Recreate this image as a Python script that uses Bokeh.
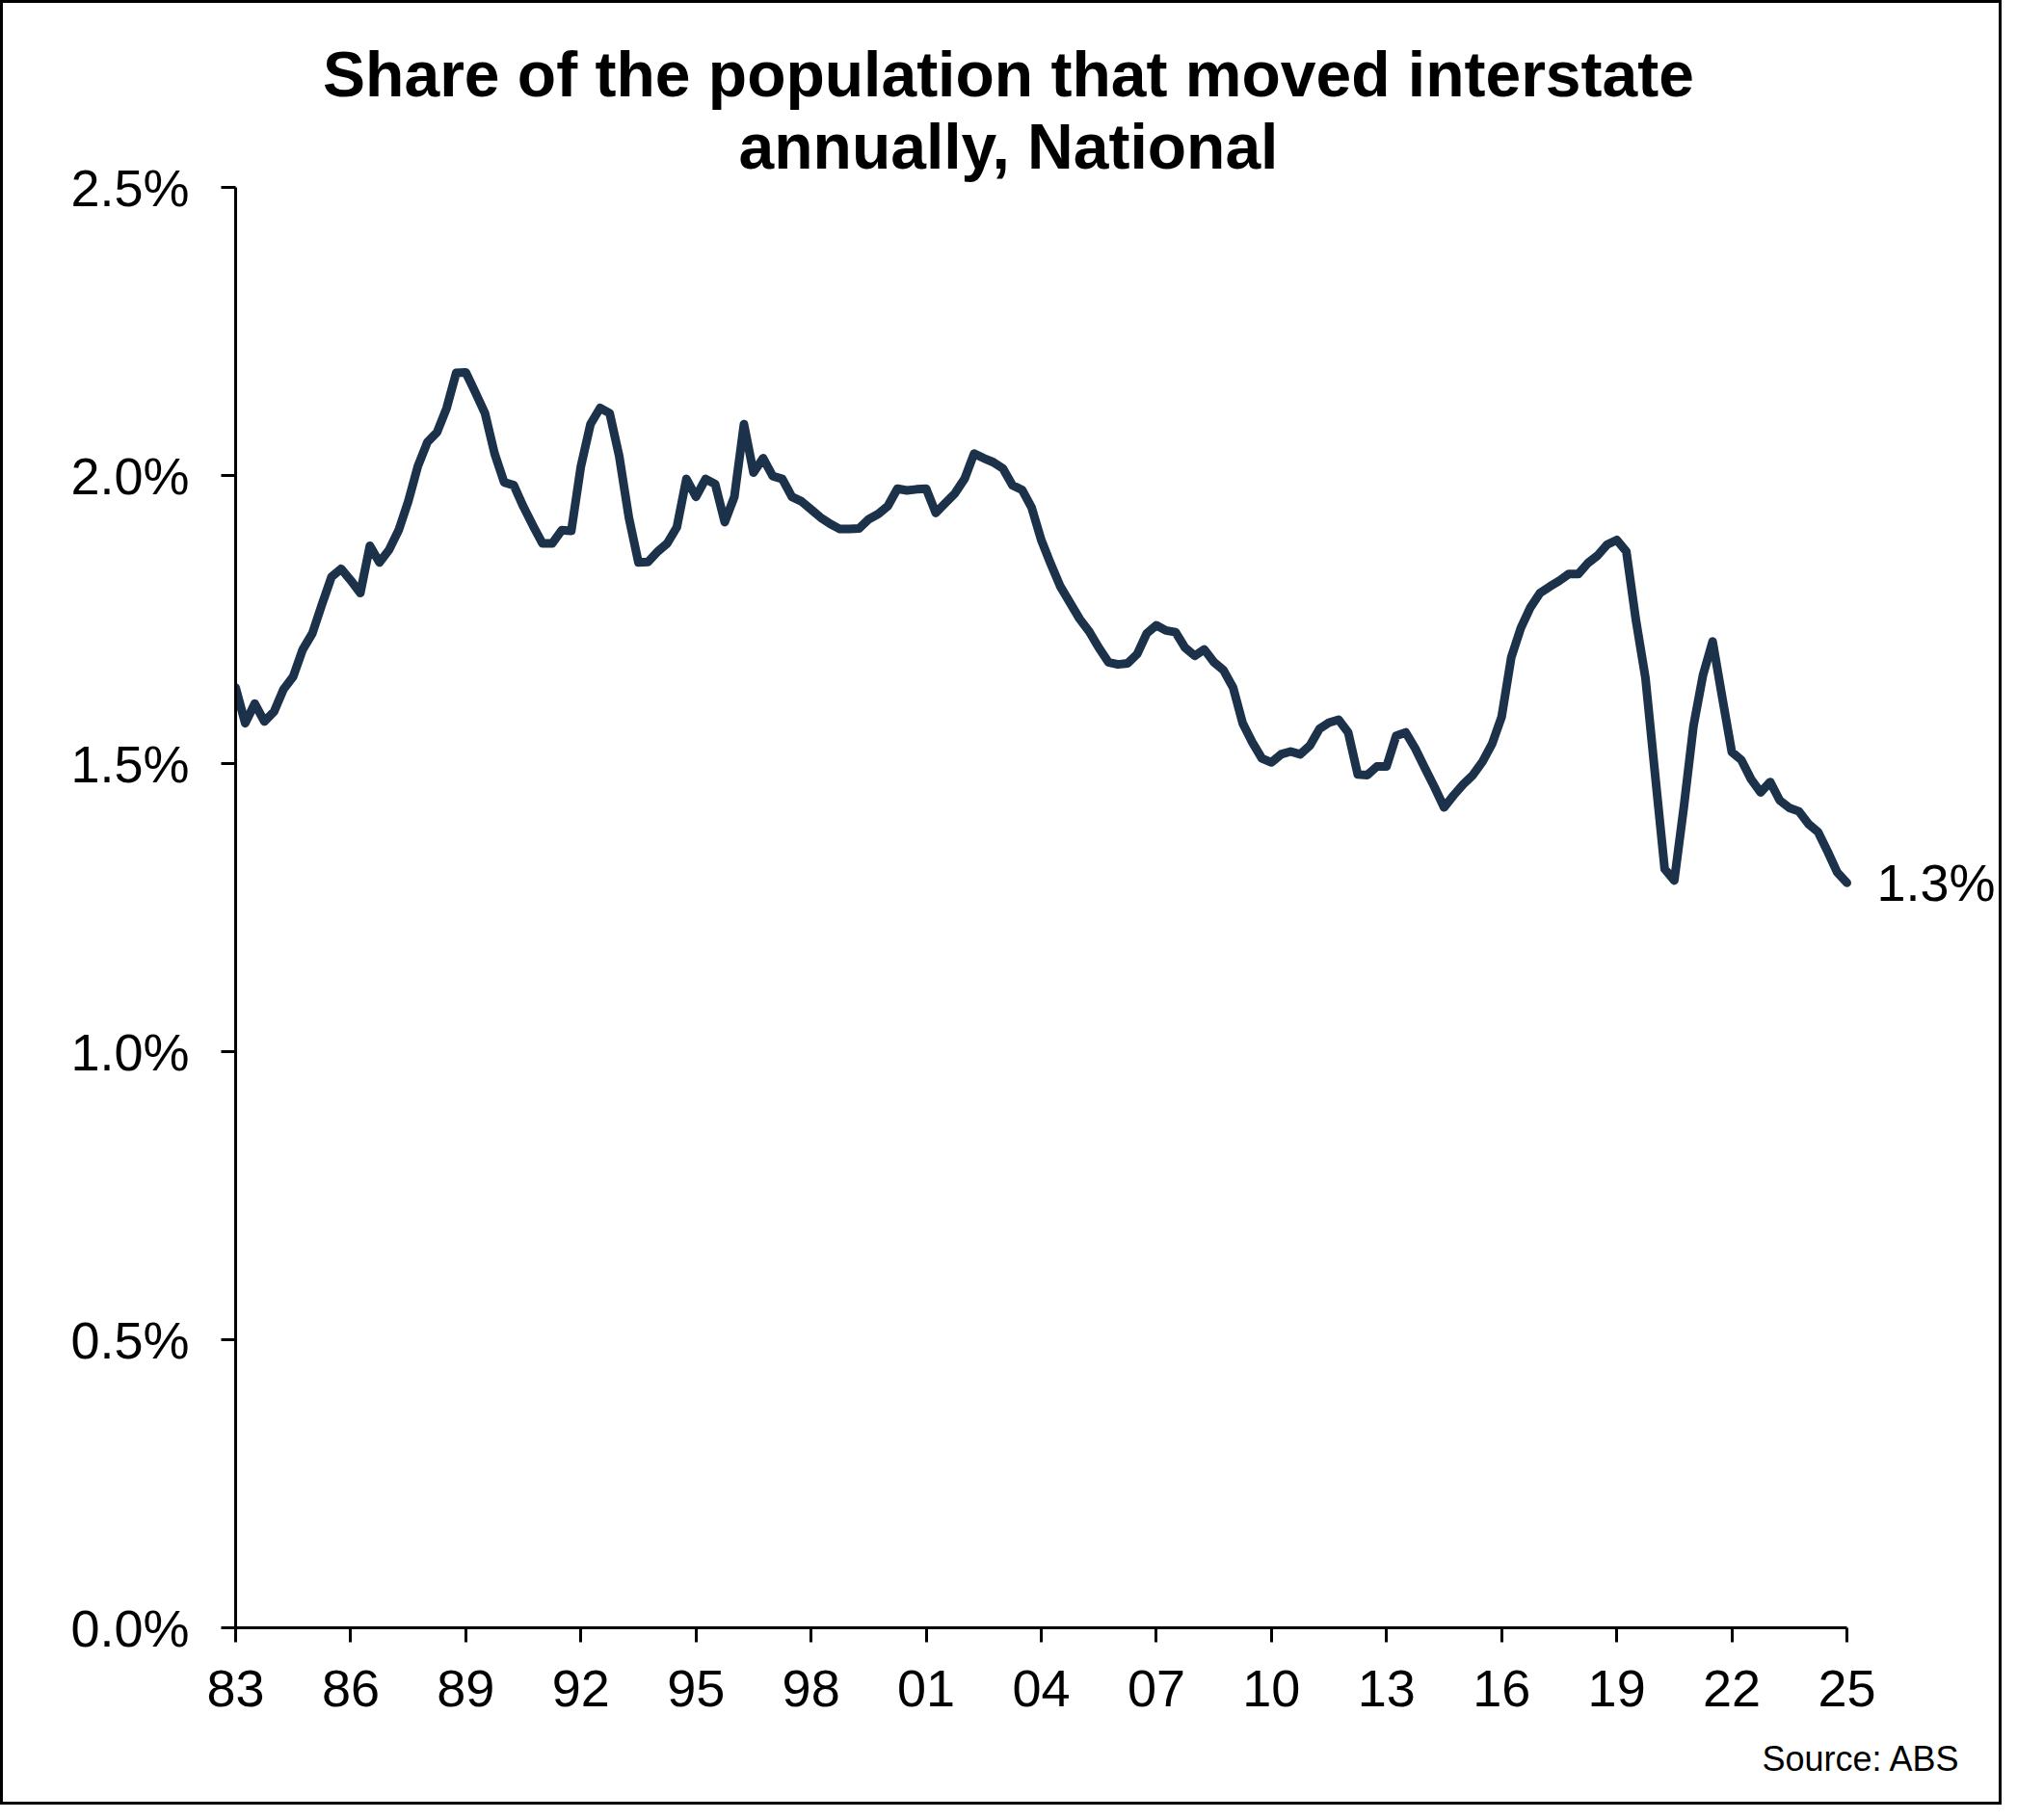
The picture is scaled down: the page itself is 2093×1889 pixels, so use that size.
from bokeh.plotting import figure
from bokeh.models import FixedTicker, PrintfTickFormatter, Label, ColumnDataSource, Title
from bokeh.embed import file_html
from bokeh.resources import INLINE

# ---- data (quarterly, share of population moving interstate, %) ----
start_year = 1983.0
vals_1980s = [1.632, 1.570, 1.604, 1.573, 1.590, 1.629, 1.651, 1.698, 1.726, 1.776,
              1.824, 1.838, 1.818, 1.796, 1.878, 1.849, 1.871, 1.905, 1.955, 2.016,
              2.058, 2.075, 2.117, 2.178, 2.179, 2.144, 2.108, 2.038]
vals_1990s = [1.988, 1.983, 1.946, 1.913, 1.882, 1.882, 1.905, 1.904, 2.016, 2.089,
              2.117, 2.108, 2.033, 1.927, 1.849, 1.850, 1.868, 1.882, 1.910, 1.994,
              1.963, 1.994, 1.985, 1.919, 1.963, 2.089, 2.005, 2.030, 1.999, 1.994,
              1.963, 1.955, 1.941, 1.927, 1.916, 1.907, 1.907, 1.908, 1.924, 1.933]
vals_2000s = [1.947, 1.977, 1.974, 1.976, 1.977, 1.935, 1.952, 1.969, 1.994, 2.038,
              2.030, 2.023, 2.012, 1.983, 1.975, 1.944, 1.888, 1.846, 1.807, 1.779,
              1.751, 1.729, 1.701, 1.676, 1.672, 1.674, 1.690, 1.726, 1.740, 1.731,
              1.728, 1.701, 1.687, 1.698, 1.676, 1.662, 1.632, 1.570, 1.537, 1.509]
vals_2010s = [1.502, 1.516, 1.521, 1.516, 1.531, 1.560, 1.571, 1.576, 1.554, 1.481,
              1.480, 1.495, 1.495, 1.548, 1.554, 1.526, 1.492, 1.459, 1.424, 1.445,
              1.464, 1.480, 1.503, 1.534, 1.581, 1.684, 1.735, 1.771, 1.796, 1.807,
              1.817, 1.829, 1.829, 1.848, 1.861, 1.880, 1.888, 1.868, 1.749, 1.648]
vals_2020s = [1.481, 1.317, 1.297, 1.425, 1.565, 1.654, 1.712, 1.615, 1.520, 1.506,
              1.473, 1.450, 1.468, 1.436, 1.423, 1.417, 1.395, 1.381, 1.347, 1.311,
              1.293]

x_ticks = [1983, 1986, 1989, 1992, 1995, 1998, 2001, 2004, 2007, 2010, 2013, 2016, 2019, 2022, 2025]
x_tick_labels = ["83", "86", "89", "92", "95", "98", "01", "04", "07", "10", "13", "16", "19", "22", "25"]
y_ticks = [0.0, 0.5, 1.0, 1.5, 2.0, 2.5]

title_lines = ["Share of the population that moved interstate", "annually, National"]
source_text = "Source: ABS"

values = vals_1980s + vals_1990s + vals_2000s + vals_2010s + vals_2020s
dates = [start_year + 0.25 * i for i in range(len(values))]
src = ColumnDataSource(dict(x=dates, y=values))

FONT = "Liberation Sans"
LINE_COLOR = "#1c314a"

# ---- layout geometry (pixels; the figure carries a 3px page border) ----
W, H = 2077, 1873
LEFT, RIGHT_B, TOP_B, BOTTOM_B = 241, 0, 16, 187
AXIS_PX = 1672            # pixel length of the 1983..2025 axis
YAXIS_PX = 1495           # pixel length of the 0..2.5 axis
px_per_year = AXIS_PX / (x_ticks[-1] - x_ticks[0])
px_per_unit = YAXIS_PX / (y_ticks[-1] - y_ticks[0])
frame_w = W - LEFT - RIGHT_B
frame_h = H - TOP_B - BOTTOM_B
frame_bottom = H - BOTTOM_B
x_end = x_ticks[0] + frame_w / px_per_year
y_end = frame_h / px_per_unit

p = figure(width=W, height=H, output_backend="svg", toolbar_location=None,
           x_range=(x_ticks[0], x_end), y_range=(0, y_end),
           min_border_left=LEFT, min_border_right=RIGHT_B,
           min_border_top=TOP_B, min_border_bottom=BOTTOM_B)
p.styles = {"border": "3px solid black"}
p.background_fill_color = "white"
p.border_fill_color = "white"
p.outline_line_color = None
p.xgrid.grid_line_color = None
p.ygrid.grid_line_color = None

p.line("x", "y", source=src, line_color=LINE_COLOR, line_width=9, line_join="round", line_cap="round")

# axes
for ax in (p.xaxis, p.yaxis):
    ax.axis_line_color = "black"
    ax.axis_line_width = 3
    ax.major_tick_line_color = "black"
    ax.major_tick_line_width = 3
    ax.major_tick_in = 0
    ax.major_tick_out = 15
    ax.minor_tick_line_color = None
    ax.major_label_text_font = FONT
    ax.major_label_text_font_size = "54px"
    ax.major_label_text_color = "black"

p.xaxis.ticker = FixedTicker(ticks=x_ticks)
p.xaxis.bounds = (x_ticks[0], x_ticks[-1])
p.xaxis.major_label_overrides = {t: l for t, l in zip(x_ticks, x_tick_labels)}
p.xaxis.major_label_standoff = 29
p.yaxis.ticker = FixedTicker(ticks=y_ticks)
p.yaxis.bounds = (y_ticks[0], y_ticks[-1])
p.yaxis.formatter = PrintfTickFormatter(format="%.1f%%")
p.yaxis.major_label_standoff = 33

# title (two centred lines, centred on the page)
title_x = x_ticks[0] + (1043 - LEFT) / px_per_year
for line_text, base_px in zip(title_lines, (73, 148)):
    p.add_layout(Label(x=title_x, y=(frame_bottom - base_px) / px_per_unit, text=line_text,
                       text_font=FONT, text_font_size="66px", text_font_style="bold",
                       text_color="black", text_align="center", text_baseline="alphabetic"))

# end value label
p.add_layout(Label(x=dates[-1], y=values[-1], text=f"{values[-1]:.1f}%", text_font=FONT,
                   text_font_size="54px", text_color="black", text_align="left",
                   text_baseline="middle", x_offset=31))

# source (below the x axis, right aligned)
p.add_layout(Title(text=source_text, align="right", text_font=FONT, text_font_size="36px",
                   text_font_style="normal", text_color="black", offset=46, standoff=58), "below")

open("out.html", "w").write(file_html(p, INLINE))
